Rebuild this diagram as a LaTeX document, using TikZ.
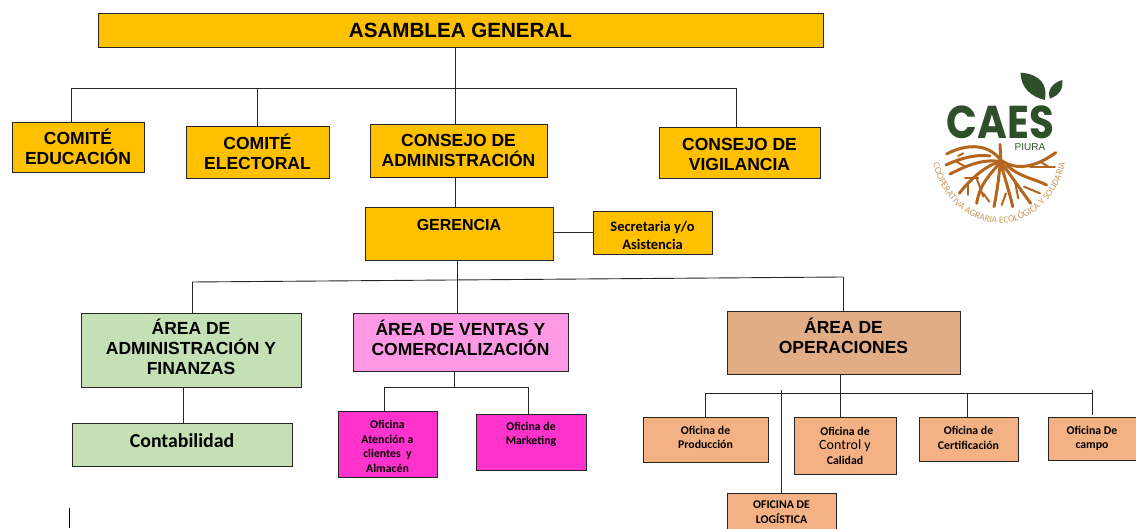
\documentclass[tikz,border=0pt]{standalone}
\usepackage{fontspec}
\usepackage{graphicx}
\setmainfont{Carlito}
\newfontfamily\arialf{Liberation Sans}
\newfontfamily\logof{Poppins}
\usetikzlibrary{decorations.text}
\definecolor{gold}{HTML}{FFC000}
\definecolor{sage}{HTML}{C5E0B4}
\definecolor{lpink}{HTML}{FF99E6}
\definecolor{hpink}{HTML}{FF33CC}
\definecolor{tanb}{HTML}{E2AC85}
\definecolor{peach}{HTML}{F4B183}
\definecolor{lgreen}{HTML}{2F4F2B}
\definecolor{rootc}{HTML}{B5661E}
\definecolor{ringc}{HTML}{C99A5B}
\tikzset{
  orgbox/.style={draw=black!85,line width=.9pt,inner sep=0pt,align=center,font=\bfseries,text=black},
  hd/.style={orgbox,font=\arialf\bfseries\fontsize{17.5}{20}\selectfont},
  sm/.style={orgbox,font=\bfseries\fontsize{11.8}{14.5}\selectfont},
  link/.style={draw=black!85,line width=.9pt},
  root/.style={draw=rootc,line width=3pt,line cap=round,line join=round},
  rootf/.style={draw=rootc,line width=2pt,line cap=round,line join=round},
}
\newcommand{\bx}[7]{% name x1 y1 x2 y2 style text
  \pgfmathsetmacro{\bxw}{#4-#2}\pgfmathsetmacro{\bxh}{#5-#3}
  \pgfmathsetmacro{\bxx}{(#2+#4)/2}\pgfmathsetmacro{\bxy}{(#3+#5)/2}
  \node[#6,minimum width=\bxw pt,minimum height=\bxh pt] (#1) at (\bxx,\bxy) {#7};}
\newcommand{\pad}[1]{\\[#1pt]\mbox{}}
\newcommand{\padt}[1]{\rule{0pt}{#1pt}}
\begin{document}
\begin{tikzpicture}[x=1pt,y=-1pt]
\useasboundingbox (0,0) rectangle (1136,529);
\bx{asm}{98}{13}{823}{47}{hd,fill=gold,font=\arialf\bfseries\fontsize{20.6}{22}\selectfont}{ASAMBLEA GENERAL}
\bx{edu}{12}{122}{144}{172}{hd,fill=gold}{COMITÉ\\EDUCACIÓN}
\bx{ele}{186}{126}{329}{178}{hd,fill=gold}{COMITÉ\\ELECTORAL}
\bx{cad}{370}{124}{547}{177}{hd,fill=gold}{CONSEJO DE\\ADMINISTRACIÓN}
\bx{vig}{659}{127}{820}{178}{hd,fill=gold}{\padt{17}CONSEJO DE\\VIGILANCIA}
\bx{ger}{365}{207}{553}{260}{hd,fill=gold,font=\arialf\bfseries\fontsize{16}{20}\selectfont}{GERENCIA\pad{-2}}
\bx{sec}{593}{211}{712}{254}{sm,fill=gold,font=\bfseries\fontsize{14.5}{18}\selectfont}{\padt{17}Secretaria y/o\\Asistencia}
\bx{adm}{81}{313}{301}{387}{hd,fill=sage}{ÁREA DE\\ADMINISTRACIÓN Y\\FINANZAS\pad{-14}}
\bx{ven}{353}{313}{568}{371}{hd,fill=lpink}{ÁREA DE VENTAS Y\\COMERCIALIZACIÓN\pad{-12}}
\bx{ope}{727}{311}{960}{374}{hd,fill=tanb}{ÁREA DE\\OPERACIONES\pad{-7}}
\bx{con}{72}{423}{292}{466}{orgbox,fill=sage,font=\bfseries\fontsize{19.8}{22}\selectfont}{Contabilidad\pad{-15}}
\bx{ate}{338}{411}{437}{477}{sm,fill=hpink}{\padt{13}Oficina\\Atención a\\clientes~ y\\Almacén}
\bx{mar}{476}{414}{586}{470}{sm,fill=hpink}{Oficina de\\Marketing\pad{2.5}}
\bx{pro}{643}{417}{768}{462}{sm,fill=peach}{Oficina de\\Producción\pad{-10}}
\bx{ctl}{794}{417}{896}{474}{sm,fill=peach}{Oficina de\\{\mdseries\fontsize{14}{14.5}\selectfont Control y}\\Calidad}
\bx{cer}{919}{417}{1018}{461}{sm,fill=peach}{Oficina de\\Certificación\pad{-12}}
\bx{cam}{1048}{417}{1136}{460}{sm,fill=peach}{Oficina De\\campo}
\bx{log}{727}{493}{836}{531}{sm,fill=peach}{OFICINA DE\\LOGÍSTICA}

\coordinate (t0) at (455,88);
\coordinate (tl) at (71,88);
\coordinate (tr) at (736,88);
\coordinate (te) at (257,88);
\draw[link] (asm.south-|t0) -- (cad.north-|t0);
\draw[link] (tl) -- (tr);
\draw[link] (tl) -- (tl|-edu.north);
\draw[link] (te) -- (te|-ele.north);
\draw[link] (tr) -- (tr|-vig.north);
\draw[link] (cad.south-|t0) -- (ger.north-|t0);
\draw[link] (ger.east|-sec.west) -- (sec.west);
\coordinate (g0) at (457,280);
\coordinate (gl) at (192,282);
\coordinate (gr) at (843,277);
\draw[link] (ger.south-|g0) -- (ven.north-|g0);
\draw[link] (gl) -- (gr);
\draw[link] (gl) -- (gl|-adm.north);
\draw[link] (gr) -- (gr|-ope.north);
\coordinate (a0) at (183,400);
\draw[link] (adm.south-|a0) -- (con.north-|a0);
\coordinate (v0) at (454,387);
\coordinate (vl) at (384,387);
\coordinate (vr) at (528,387);
\draw[link] (ven.south-|v0) -- (v0);
\draw[link] (vl) -- (vr);
\draw[link] (vl) -- (vl|-ate.north);
\draw[link] (vr) -- (vr|-mar.north);
\coordinate (o0) at (840,393);
\coordinate (ol) at (705,393);
\coordinate (or) at (1092,393);
\coordinate (oc) at (967,393);
\coordinate (ot) at (781,390);
\coordinate (oe) at (1092,390);
\coordinate (of) at (1092,415);
\draw[link] (ope.south-|o0) -- (ctl.north-|o0);
\draw[link] (ol) -- (or);
\draw[link] (ol) -- (ol|-pro.north);
\draw[link] (oc) -- (oc|-cer.north);
\draw[link] (oe) -- (of);
\draw[link] (ot) -- (ot|-log.north);
\coordinate (s1) at (69,508);
\coordinate (s2) at (69,528);
\draw[draw=black,line width=.8pt] (s1) -- (s2);

% logo
\begin{scope}[shift={(900,50)},x=.3333pt,y=-.3333pt]
\fill[lgreen] (362,68) .. controls (420,72) and (445,105) .. (434,150) .. controls (395,140) and (362,115) .. (362,68) -- cycle;
\fill[lgreen] (487,90) .. controls (460,98) and (440,118) .. (450,146) .. controls (478,135) and (490,118) .. (487,90) -- cycle;
\node[font=\logof\bfseries\fontsize{46}{46}\selectfont,text=lgreen,inner sep=0pt] (caes) at (302,218) {\scalebox{.88}[1]{CAES}};
\node[font=\arialf\fontsize{10}{10}\selectfont,text=lgreen,inner sep=0pt] (piura) at (390,292) {PIURA};
\path[decorate,decoration={text along path,text align=center,raise=0pt,
   text={|\fontsize{9.6}{10}\selectfont\color{ringc}|COOPERATIVA AGRARIA ECOLÓGICA Y SOLIDARIA}}]
   (92,275) arc[start angle=180,end angle=0,x radius=206,y radius=245];
% main root mass
\draw[root] (300,283) -- (302,325) .. controls (295,400) and (290,430) .. (282,470);
\draw[root] (140,312) .. controls (190,285) and (260,275) .. (302,330) .. controls (350,365) and (410,350) .. (467,308);
\draw[root] (302,335) .. controls (315,390) and (330,430) .. (338,470);
\draw[root] (302,335) .. controls (335,380) and (370,430) .. (392,460);
\draw[root] (302,335) .. controls (270,375) and (240,400) .. (230,460);
\draw[root] (302,335) .. controls (255,345) and (205,395) .. (178,430);
\draw[root] (302,335) .. controls (245,325) and (195,350) .. (150,372);
\draw[root] (270,318) .. controls (230,312) and (180,325) .. (138,345);
\draw[root] (320,345) .. controls (355,380) and (400,385) .. (440,405);
\draw[rootf] (390,352) -- (465,352);
\draw[rootf] (420,335) -- (445,350);
\draw[rootf] (190,310) -- (175,318);
\draw[rootf] (195,350) -- (170,335);
\draw[rootf] (230,385) -- (250,440);
\draw[rootf] (235,385) -- (195,385);
\draw[rootf] (205,398) -- (205,435);
\draw[rootf] (250,430) -- (268,455);
\draw[rootf] (345,395) -- (355,445);
\draw[rootf] (372,410) -- (420,430);
\draw[rootf] (318,430) -- (305,465);
\end{scope}
\end{tikzpicture}
\end{document}
